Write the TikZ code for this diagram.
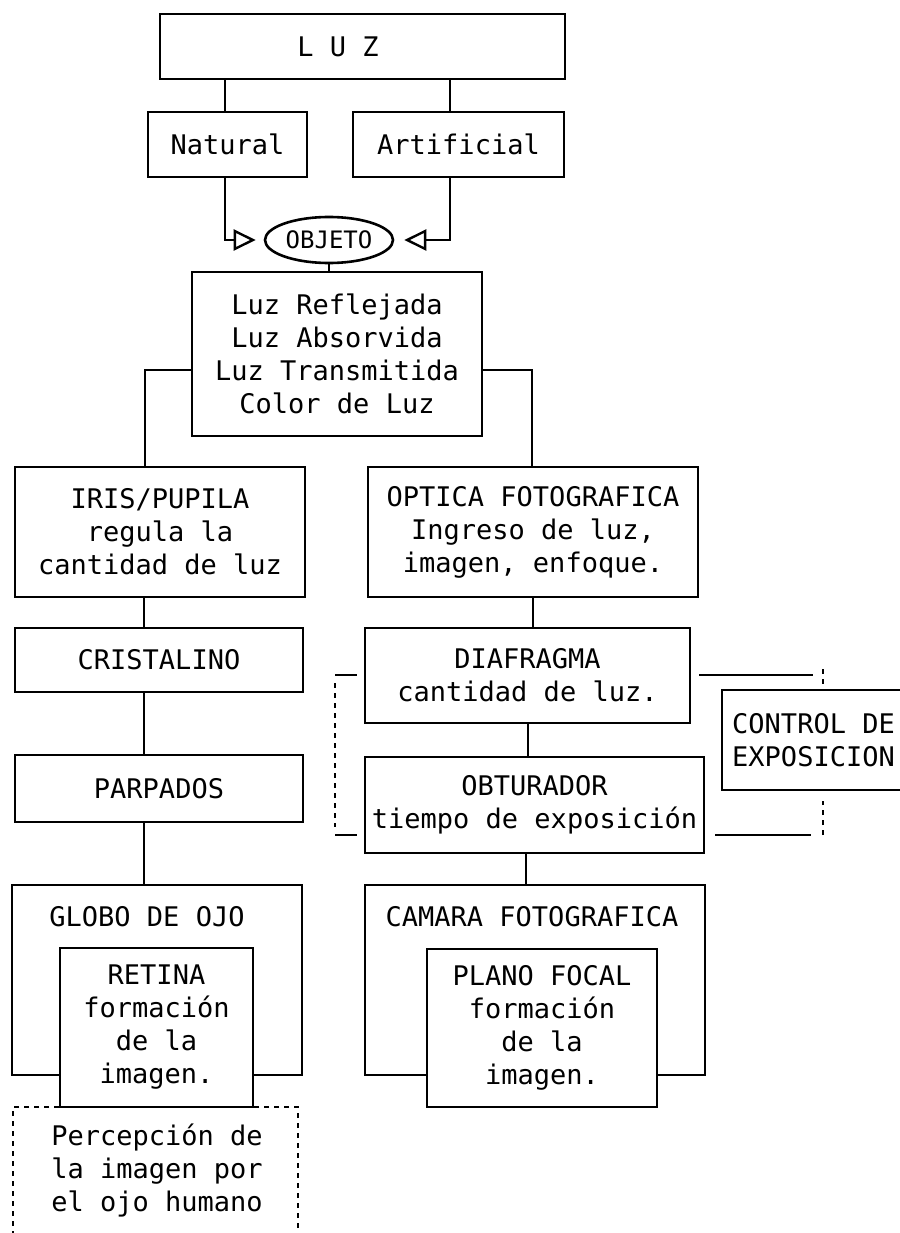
\documentclass[tikz,border=0pt]{standalone}
\usepackage{fontspec}
\newfontfamily\dm{DejaVu Sans Mono}
\usetikzlibrary{arrows.meta,shapes.geometric,calc}
\begin{document}
\begin{tikzpicture}[x=1pt,y=-1pt,
  box/.style={draw, line width=2.8pt, fill=white, inner sep=0pt, align=center, font=\dm\fontsize{27}{33}\selectfont},
  txt/.style={inner sep=0pt, align=center, font=\dm\fontsize{27}{33}\selectfont},
  conn/.style={draw, line width=2.8pt},
  dashline/.style={draw, line width=2pt, dash pattern=on 5pt off 5pt},
  dashbox/.style={draw, line width=2pt, dash pattern=on 5pt off 5pt, inner sep=0pt},
  opentri/.style={-{Triangle[open, length=22pt, width=21pt, line width=2.4pt]}}
]
\useasboundingbox (0,0) rectangle (899,1233);

% top
\node[box, minimum width=405pt, minimum height=65pt] (luz) at (362.5,46.5) {};
\node[txt] (luzt) at (338,47) {L U Z};
\node[box, minimum width=159pt, minimum height=65pt] (nat) at (227.5,144.5) {Natural};
\node[box, minimum width=211pt, minimum height=65pt] (art) at (458.5,144.5) {Artificial};
\coordinate (n1) at ($(nat.north)+(-2.5,0)$);
\coordinate (a1) at ($(art.north)+(-8.5,0)$);
\draw[conn] (n1 |- luz.south) -- (n1);
\draw[conn] (a1 |- luz.south) -- (a1);

\node[draw, ellipse, line width=2.6pt, minimum width=128pt, minimum height=46pt, inner sep=0pt,
      font=\dm\fontsize{24}{28}\selectfont] (obj) at (329,240) {OBJETO};
\coordinate (n2) at ($(nat.south)+(-2.5,0)$);
\coordinate (a2) at ($(art.south)+(-8.5,0)$);
\coordinate (oL) at ($(obj.west)+(-8,0)$);
\coordinate (oR) at ($(obj.east)+(10,0)$);
\draw[conn, opentri] (n2) |- (oL);
\draw[conn, opentri] (a2) |- (oR);

\node[box, minimum width=290pt, minimum height=164pt] (lr) at (337,354)
  {Luz Reflejada\\Luz Absorvida\\Luz Transmitida\\Color de Luz};
\draw[conn] (obj.south) -- (obj.south |- lr.north);

% second level
\node[box, minimum width=290pt, minimum height=130pt] (iris) at (160,532)
  {IRIS/PUPILA\\regula la\\cantidad de luz};
\node[box, minimum width=330pt, minimum height=130pt] (opt) at (533,532)
  {OPTICA FOTOGRAFICA\\Ingreso de luz,\\imagen, enfoque.};
\coordinate (lcol) at (145,370);
\coordinate (rcol) at (532,370);
\draw[conn] (lr.west |- lcol) -- (lcol) -- (lcol |- iris.north);
\draw[conn] (lr.east |- rcol) -- (rcol) -- (rcol |- opt.north);

% left column
\node[box, minimum width=288pt, minimum height=64pt] (cris) at (159,660) {CRISTALINO};
\node[box, minimum width=288pt, minimum height=67pt] (parp) at (159,788.5) {PARPADOS};
\node[box, minimum width=290pt, minimum height=190pt] (glo) at (157,980) {};
\node[txt] (glot) at (147,917) {GLOBO DE OJO};
\node[dashbox, minimum width=285pt, minimum height=156pt] (perc) at (155.5,1185) {};
\node[txt] (perct) at (157,1170) {Percepción de\\la imagen por\\el ojo humano};
\node[box, minimum width=193pt, minimum height=159pt] (ret) at (156.5,1027.5)
  {RETINA\\formación\\de la\\imagen.};
\coordinate (lc2) at (144,0);
\draw[conn] (iris.south -| lc2) -- (cris.north -| lc2);
\draw[conn] (cris.south -| lc2) -- (parp.north -| lc2);
\draw[conn] (parp.south -| lc2) -- (glo.north -| lc2);

% right column
\node[box, minimum width=325pt, minimum height=95pt] (diaf) at (527.5,675.5)
  {DIAFRAGMA\\cantidad de luz.};
\node[box, minimum width=339pt, minimum height=96pt] (obt) at (534.5,805)
  {OBTURADOR\\tiempo de exposición};
\node[box, minimum width=340pt, minimum height=190pt] (cam) at (535,980) {};
\node[txt] (camt) at (532,917) {CAMARA FOTOGRAFICA};
\node[box, minimum width=230pt, minimum height=158pt] (plano) at (542,1028)
  {PLANO FOCAL\\formación\\de la\\imagen.};
\coordinate (rc2) at (526,0);
\coordinate (rc1) at (528,0);
\draw[conn] (opt.south) -- (opt.south |- diaf.north);
\draw[conn] (diaf.south -| rc1) -- (obt.north -| rc1);
\draw[conn] (obt.south -| rc2) -- (cam.north -| rc2);

% control de exposicion
\node[box, minimum width=183pt, minimum height=100pt] (ctrl) at (813.5,740)
  {CONTROL DE\\EXPOSICION};
\coordinate (c1) at (823,675);
\coordinate (c2) at (823,835);
\draw[conn, shorten <=8pt, shorten >=10pt] (diaf.east |- c1) -- (c1);
\draw[dashline] ($(c1)+(0,-6)$) -- (c1 |- ctrl.north);
\draw[conn, shorten <=10pt, shorten >=12pt] (obt.east |- c2) -- (c2);
\draw[dashline] (c2) -- ($(c2 |- ctrl.south)+(0,10)$);

% left bracket
\coordinate (b1) at (335,675);
\coordinate (b2) at (335,835);
\draw[conn, shorten >=7pt] (b1) -- (b1 -| diaf.west);
\draw[conn, shorten >=7pt] (b2) -- (b2 -| obt.west);
\draw[dashline] ($(b1)+(0,8)$) -- ($(b2)+(0,-8)$);
\end{tikzpicture}
\end{document}
